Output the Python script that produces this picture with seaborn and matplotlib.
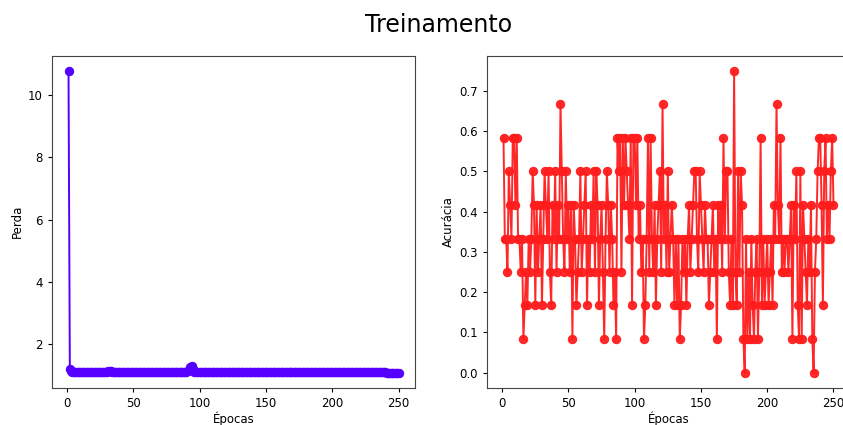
import numpy as np
import pandas as pd
import matplotlib
matplotlib.use("Agg")
import matplotlib.pyplot as plt
import seaborn as sns

# Loss per epoch
perda = [
    10.78, 1.19, 1.15, 1.12, 1.11, 1.11, 1.10, 1.10, 1.10, 1.10,
    1.10, 1.10, 1.10, 1.10, 1.10, 1.10, 1.10, 1.10, 1.10, 1.10,
    1.10, 1.10, 1.10, 1.10, 1.10, 1.10, 1.10, 1.10, 1.11, 1.12,
    1.14, 1.15, 1.13, 1.11, 1.10, 1.10, 1.10, 1.10, 1.10, 1.10,
    1.10, 1.10, 1.10, 1.10, 1.10, 1.10, 1.10, 1.10, 1.10, 1.10,
    1.10, 1.10, 1.10, 1.10, 1.10, 1.10, 1.10, 1.10, 1.10, 1.10,
    1.10, 1.10, 1.10, 1.10, 1.10, 1.10, 1.10, 1.10, 1.10, 1.10,
    1.10, 1.10, 1.10, 1.10, 1.10, 1.10, 1.10, 1.10, 1.10, 1.10,
    1.10, 1.10, 1.10, 1.10, 1.10, 1.10, 1.10, 1.10, 1.10, 1.11,
    1.13, 1.18, 1.28, 1.31, 1.20, 1.12, 1.10, 1.10, 1.10, 1.10,
    1.10, 1.10, 1.10, 1.10, 1.10, 1.10, 1.10, 1.10, 1.10, 1.10,
    1.10, 1.10, 1.10, 1.10, 1.10, 1.10, 1.10, 1.10, 1.10, 1.10,
    1.10, 1.10, 1.10, 1.10, 1.10, 1.10, 1.10, 1.10, 1.10, 1.10,
    1.10, 1.10, 1.10, 1.10, 1.10, 1.10, 1.10, 1.10, 1.10, 1.10,
    1.10, 1.10, 1.10, 1.10, 1.10, 1.10, 1.10, 1.10, 1.10, 1.10,
    1.10, 1.10, 1.10, 1.10, 1.10, 1.10, 1.10, 1.10, 1.10, 1.10,
    1.10, 1.10, 1.10, 1.10, 1.10, 1.10, 1.10, 1.10, 1.10, 1.10,
    1.10, 1.10, 1.10, 1.10, 1.10, 1.10, 1.10, 1.10, 1.10, 1.10,
    1.10, 1.10, 1.10, 1.10, 1.10, 1.10, 1.10, 1.10, 1.10, 1.10,
    1.10, 1.10, 1.10, 1.10, 1.10, 1.10, 1.10, 1.10, 1.10, 1.10,
    1.10, 1.10, 1.10, 1.10, 1.10, 1.10, 1.10, 1.10, 1.10, 1.10,
    1.10, 1.10, 1.10, 1.10, 1.10, 1.10, 1.10, 1.10, 1.10, 1.10,
    1.10, 1.10, 1.10, 1.10, 1.10, 1.10, 1.10, 1.10, 1.10, 1.10,
    1.10, 1.10, 1.10, 1.10, 1.10, 1.10, 1.10, 1.10, 1.10, 1.10,
    1.09, 1.09, 1.09, 1.09, 1.09, 1.09, 1.09, 1.09, 1.09, 1.09,
]

# Accuracy per epoch
acuracia = [
    .583, .333, .333, .25, .5, .417, .333, .583, .583, .417,
    .583, .333, .333, .25, .333, .083, .167, .25, .167, .333,
    .25, .333, .5, .417, .167, .417, .25, .333, .417, .167,
    .333, .5, .417, .333, .5, .25, .167, .417, .333, .5,
    .25, .417, .333, .667, .5, .333, .25, .5, .333, .417,
    .25, .417, .083, .417, .333, .167, .25, .333, .5, .25,
    .333, .417, .5, .167, .333, .25, .417, .333, .5, .25,
    .5, .417, .167, .333, .417, .25, .083, .333, .5, .417,
    .25, .417, .333, .167, .25, .083, .583, .5, .583, .25,
    .583, .417, .583, .5, .417, .333, .583, .167, .583, .583,
    .417, .583, .333, .417, .25, .333, .083, .167, .333, .583,
    .25, .583, .333, .25, .417, .167, .333, .417, .5, .25,
    .667, .333, .417, .25, .5, .25, .333, .417, .333, .167,
    .333, .167, .333, .083, .167, .333, .25, .333, .167, .333,
    .417, .25, .333, .417, .5, .5, .333, .25, .5, .417,
    .333, .25, .417, .333, .333, .167, .25, .333, .417, .25,
    .333, .083, .417, .333, .417, .25, .583, .333, .5, .5,
    .25, .167, .333, .167, .75, .25, .167, .5, .25, .5,
    .417, .083, .0, .333, .083, .25, .083, .333, .167, .083,
    .25, .333, .083, .25, .583, .167, .333, .167, .25, .333,
    .167, .25, .333, .167, .417, .333, .667, .417, .333, .583,
    .25, .333, .25, .333, .333, .25, .333, .417, .083, .417,
    .333, .5, .167, .083, .5, .083, .417, .333, .25, .167,
    .333, .25, .417, .083, .0, .25, .333, .5, .583, .583,
    .417, .167, .5, .583, .333, .417, .333, .5, .583, .417,
]

epocas = list(range(1, len(perda) + 1))
df = pd.DataFrame({"Épocas": epocas, "Perda": perda, "Acurácia": acuracia})

plt.rcParams["font.size"] = 8.5

fig = plt.figure(figsize=(8.43, 4.25), dpi=100)
ax1 = fig.add_axes([0.0617, 0.0878, 0.4306, 0.781])
ax2 = fig.add_axes([0.5777, 0.0878, 0.4306, 0.781])

# Loss curve
sns.lineplot(data=df, x="Épocas", y="Perda", ax=ax1, color="#5500ff",
             marker="o", markersize=6, markeredgecolor="#5500ff",
             linewidth=1.4, estimator=None)

# Accuracy curve
sns.lineplot(data=df, x="Épocas", y="Acurácia", ax=ax2, color="#ff1c1c",
             marker="o", markersize=6, markeredgecolor="#ff1c1c",
             linewidth=1.4, alpha=0.95, estimator=None)

ax1.set_yticks([2, 4, 6, 8, 10])
ax2.set_yticks([0.0, 0.1, 0.2, 0.3, 0.4, 0.5, 0.6, 0.7])
for ax in (ax1, ax2):
    ax.set_xticks([0, 50, 100, 150, 200, 250])
    ax.tick_params(labelsize=8.5, length=3)
    ax.xaxis.labelpad = 1.5
    ax.yaxis.labelpad = 3
    for s in ax.spines.values():
        s.set_color("#444444")

fig.suptitle("Treinamento", fontsize=17, x=0.52, y=0.97)
fig.savefig("out.png", dpi=100)
